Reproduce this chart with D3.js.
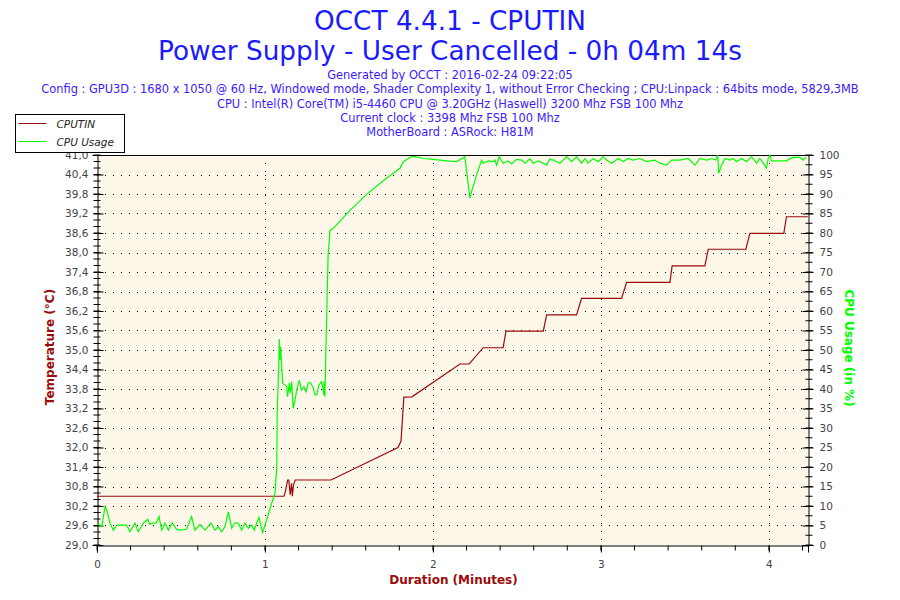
<!DOCTYPE html>
<html>
<head>
<meta charset="utf-8">
<script src="https://cdn.jsdelivr.net/npm/d3@7"></script>
<style>
  body { margin: 0; background: #fff; }
  svg { display: block; font-family: "DejaVu Sans", Verdana, sans-serif; }
</style>
</head>
<body>
<div id="chart"></div>
<script>
// readings, time in minutes
const tempTime = [0, 1.113, 1.122, 1.135, 1.142, 1.150, 1.158, 1.163, 1.170, 1.180, 1.393, 1.792, 1.810, 1.827,
  1.875, 2.161, 2.216, 2.299, 2.418, 2.435, 2.657, 2.677, 2.855, 2.885, 3.123, 3.153, 3.411, 3.424,
  3.619, 3.639, 3.863, 3.887, 4.089, 4.105, 4.232];
const tempValues = [30.5, 30.5, 30.65, 31.0, 31.0, 30.55, 30.9, 30.5, 30.85, 31.0, 31.0, 32.0, 32.2, 33.55,
  33.56, 34.57, 34.57, 35.07, 35.07, 35.58, 35.58, 36.08, 36.08, 36.59, 36.59, 37.08, 37.08, 37.59,
  37.59, 38.1, 38.1, 38.59, 38.59, 39.1, 39.1];

const cpuTime = [0.002, 0.028, 0.048, 0.058, 0.077, 0.097, 0.117, 0.147, 0.177, 0.196, 0.226, 0.246, 0.276,
  0.302, 0.315, 0.335, 0.351, 0.369, 0.385, 0.405, 0.425, 0.448, 0.474, 0.500, 0.534, 0.563, 0.583,
  0.613, 0.643, 0.679, 0.702, 0.722, 0.742, 0.762, 0.782, 0.802, 0.821, 0.841, 0.861, 0.881, 0.901,
  0.921, 0.936, 0.964, 0.986, 1.010, 1.040, 1.060, 1.070, 1.073, 1.083, 1.085, 1.089, 1.093, 1.099,
  1.105, 1.119, 1.129, 1.135, 1.145, 1.151, 1.159, 1.168, 1.179, 1.189, 1.204, 1.218, 1.232, 1.244,
  1.258, 1.272, 1.288, 1.298, 1.308, 1.321, 1.338, 1.347, 1.351, 1.353, 1.357, 1.363, 1.367, 1.376,
  1.387, 1.407, 1.506, 1.605, 1.704, 1.764, 1.804, 1.823, 1.873, 1.893, 1.942, 2.002, 2.082, 2.141,
  2.180, 2.190, 2.201, 2.220, 2.230, 2.260, 2.290, 2.299, 2.329, 2.359, 2.369, 2.379, 2.395, 2.418,
  2.448, 2.468, 2.498, 2.528, 2.548, 2.577, 2.597, 2.627, 2.657, 2.677, 2.696, 2.716, 2.756, 2.796,
  2.826, 2.855, 2.885, 2.905, 2.924, 2.954, 2.984, 3.014, 3.034, 3.064, 3.103, 3.133, 3.163, 3.192,
  3.232, 3.272, 3.321, 3.351, 3.391, 3.421, 3.470, 3.520, 3.560, 3.589, 3.629, 3.659, 3.685, 3.695,
  3.702, 3.718, 3.738, 3.768, 3.788, 3.808, 3.838, 3.867, 3.897, 3.927, 3.946, 3.966, 3.986, 3.996,
  4.006, 4.016, 4.105, 4.125, 4.145, 4.185, 4.204, 4.214, 4.224];
const cpuValues = [5.6, 4.7, 9.8, 9.0, 5.6, 3.8, 5.1, 5.1, 5.1, 3.4, 5.6, 3.4, 5.6, 6.6, 5.3, 5.7, 5.6,
  7.3, 3.8, 5.6, 3.8, 5.7, 4.0, 3.8, 4.1, 7.3, 3.8, 5.3, 3.8, 5.6, 3.8, 4.7, 3.4, 4.7, 8.5, 4.3, 5.7,
  5.6, 3.8, 5.6, 4.3, 5.1, 3.8, 7.1, 3.2, 6.4, 10.7, 13.3, 20.0, 33.8, 47.4, 52.8, 47.4, 50.8, 46.6,
  41.5, 41.0, 40.6, 38.0, 41.5, 38.9, 41.9, 35.0, 37.2, 39.7, 42.3, 39.7, 40.6, 39.3, 41.6, 41.6, 40.2,
  38.5, 38.5, 41.0, 41.9, 39.7, 38.5, 41.9, 38.0, 50.8, 57.7, 74.4, 80.6, 81.2, 85.8, 89.9, 93.4, 95.3,
  96.6, 98.3, 99.6, 99.6, 99.1, 98.9, 98.5, 98.3, 99.3, 99.6, 95.7, 88.9, 90.6, 94.9, 98.7, 97.9, 98.5,
  98.3, 98.7, 97.4, 99.6, 97.9, 98.5, 97.7, 98.9, 98.7, 97.9, 99.0, 97.9, 98.5, 97.9, 97.4, 99.0, 98.7,
  97.9, 99.6, 98.3, 99.6, 97.9, 99.1, 97.9, 99.1, 98.3, 99.6, 98.7, 97.9, 99.1, 98.3, 99.1, 98.7, 99.1,
  98.3, 98.7, 97.9, 97.4, 98.7, 98.7, 99.1, 97.4, 99.1, 98.7, 99.1, 98.7, 100, 95.3, 97.4, 99.1, 98.7,
  99.1, 98.3, 99.1, 98.3, 99.6, 97.9, 99.1, 97.9, 96.6, 99.1, 99.9, 98.5, 98.5, 99.0, 99.4, 99.4, 98.7,
  99.3, 99.1];

const titleLines = ["OCCT 4.4.1 - CPUTIN", "Power Supply - User Cancelled - 0h 04m 14s"];
const infoLines = [
  "Generated by OCCT : 2016-02-24 09:22:05",
  "Config : GPU3D : 1680 x 1050 @ 60 Hz, Windowed mode, Shader Complexity 1, without Error Checking ; CPU:Linpack : 64bits mode, 5829,3MB",
  "CPU : Intel(R) Core(TM) i5-4460 CPU @ 3.20GHz (Haswell) 3200 Mhz FSB 100 Mhz",
  "Current clock : 3398 Mhz FSB 100 Mhz",
  "MotherBoard : ASRock: H81M"
];
const seriesNames = ["CPUTIN", "CPU Usage"];
const tempTicks = d3.range(0, 21).map(i => 29 + i * 0.6);
const cpuTicks = d3.range(0, 21).map(i => i * 5);
const xTicks = [0, 1, 2, 3, 4];

const width = 900, height = 600;
const pLeft = 97, pRight = 808, pTop = 155, pBottom = 545;
const red = "#9b0a0a", green = "#00ff00", blue = "#1a1aff";

const svg = d3.select("#chart").append("svg")
  .attr("width", width)
  .attr("height", height);

const x = d3.scaleLinear().domain([0, 4.233]).range([pLeft, pRight]);
const yT = d3.scaleLinear().domain([29, 41]).range([pBottom, pTop]);
const yC = d3.scaleLinear().domain([0, 100]).range([pBottom, pTop]);

// titles
svg.selectAll("text.title")
  .data(titleLines)
  .enter().append("text")
  .attr("class", "title")
  .attr("x", 450)
  .attr("y", (d, i) => 30 + i * 30)
  .attr("text-anchor", "middle")
  .attr("font-size", 26.3)
  .attr("fill", blue)
  .text(d => d);

svg.selectAll("text.info")
  .data(infoLines)
  .enter().append("text")
  .attr("class", "info")
  .attr("x", 450)
  .attr("y", (d, i) => 79 + i * 14.3)
  .attr("text-anchor", "middle")
  .attr("font-size", 11.4)
  .attr("fill", "#3a1aff")
  .text(d => d);

// plot background
svg.append("rect")
  .attr("x", pLeft).attr("y", pTop)
  .attr("width", pRight - pLeft).attr("height", pBottom - pTop)
  .attr("fill", "#fdf7ea");

// grid
svg.append("g")
  .selectAll("line")
  .data(tempTicks.slice(1, -1))
  .enter().append("line")
  .attr("x1", pLeft).attr("x2", pRight)
  .attr("y1", d => Math.round(yT(d)) + 0.5).attr("y2", d => Math.round(yT(d)) + 0.5)
  .attr("stroke", "#000").attr("stroke-dasharray", "1,7");

svg.append("g")
  .selectAll("line")
  .data(xTicks.slice(1))
  .enter().append("line")
  .attr("x1", d => Math.round(x(d)) + 0.5).attr("x2", d => Math.round(x(d)) + 0.5)
  .attr("y1", pTop).attr("y2", pBottom)
  .attr("stroke", "#000").attr("stroke-dasharray", "1,7");

// top border
svg.append("line")
  .attr("x1", pLeft).attr("x2", pRight)
  .attr("y1", pTop + 0.5).attr("y2", pTop + 0.5)
  .attr("stroke", "#000");

// left axis
const leftAxis = svg.append("g")
  .attr("transform", `translate(${pLeft + 0.5},0)`)
  .call(d3.axisLeft(yT).tickValues(tempTicks).tickFormat(d => d3.format(".1f")(d).replace(".", ",")).tickSize(5));
leftAxis.selectAll(".tick line").attr("x2", -4).attr("x1", 6);
leftAxis.selectAll("g.minor")
  .data(d3.range(0, 61).map(i => 29 + i * 0.2))
  .enter().append("line")
  .attr("x1", -4).attr("x2", 3)
  .attr("y1", d => yT(d)).attr("y2", d => yT(d))
  .attr("stroke", "#000");

// right axis
const rightAxis = svg.append("g")
  .attr("transform", `translate(${pRight + 0.5},0)`)
  .call(d3.axisRight(yC).tickValues(cpuTicks).tickSize(5));
rightAxis.selectAll(".tick line").attr("x1", -6).attr("x2", 5);
rightAxis.selectAll("g.minor")
  .data(d3.range(0, 41).map(i => i * 2.5))
  .enter().append("line")
  .attr("x1", -3).attr("x2", 4)
  .attr("y1", d => yC(d)).attr("y2", d => yC(d))
  .attr("stroke", "#000");

// bottom axis
const bottomAxis = svg.append("g")
  .attr("transform", `translate(0,${pBottom + 0.5})`)
  .call(d3.axisBottom(x).tickValues(xTicks).tickFormat(d3.format("d")).tickSize(7).tickPadding(8));
bottomAxis.selectAll("g.minor")
  .data(d3.range(0, 22).map(i => i * 0.2))
  .enter().append("line")
  .attr("x1", d => x(d)).attr("x2", d => x(d))
  .attr("y1", 0).attr("y2", 5)
  .attr("stroke", "#000");

[leftAxis, rightAxis, bottomAxis].forEach(a => {
  a.select(".domain").attr("stroke", "#000");
  a.selectAll(".tick line").attr("stroke", "#000");
  a.selectAll("text").attr("fill", "#444").attr("font-size", 10.5)
    .attr("font-family", "DejaVu Sans, sans-serif");
});
leftAxis.selectAll(".tick text").attr("x", -9);
rightAxis.selectAll(".tick text").attr("x", 11);

// series
const tempLine = d3.line()
  .x((d, i) => x(tempTime[i]))
  .y(d => yT(d));
const cpuLine = d3.line()
  .x((d, i) => x(cpuTime[i]))
  .y(d => yC(d));

svg.append("path")
  .datum(tempValues)
  .attr("d", tempLine)
  .attr("fill", "none")
  .attr("stroke", red)
  .attr("stroke-width", 1.2);

svg.append("path")
  .datum(cpuValues)
  .attr("d", cpuLine)
  .attr("fill", "none")
  .attr("stroke", green)
  .attr("stroke-width", 1.2);

// axis titles
svg.append("text")
  .attr("transform", `translate(54,${(pTop + pBottom) / 2 - 3}) rotate(-90)`)
  .attr("text-anchor", "middle")
  .attr("font-size", 12)
  .attr("font-weight", "bold")
  .attr("fill", red)
  .text("Temperature (°C)");

svg.append("text")
  .attr("transform", `translate(845,${(pTop + pBottom) / 2 - 2}) rotate(90)`)
  .attr("text-anchor", "middle")
  .attr("font-size", 12)
  .attr("font-weight", "bold")
  .attr("fill", green)
  .text("CPU Usage (in %)");

svg.append("text")
  .attr("x", (pLeft + pRight) / 2 + 1)
  .attr("y", 584)
  .attr("text-anchor", "middle")
  .attr("font-size", 12)
  .attr("font-weight", "bold")
  .attr("fill", red)
  .text("Duration (Minutes)");

// legend, drawn over the top axis label like the original
const legend = svg.append("g").attr("transform", "translate(15.5,114.5)");
legend.append("rect")
  .attr("width", 109).attr("height", 38)
  .attr("fill", "#fff").attr("stroke", "#000");
const item = legend.selectAll("g.item")
  .data(seriesNames)
  .enter().append("g")
  .attr("class", "item")
  .attr("transform", (d, i) => `translate(0,${9 + i * 18})`);
item.append("line")
  .attr("x1", 3).attr("x2", 31)
  .attr("stroke", (d, i) => i === 0 ? red : green);
item.append("text")
  .attr("x", 41).attr("y", 4)
  .attr("font-size", 10.5)
  .attr("font-style", "italic")
  .attr("fill", "#222")
  .text(d => d);
</script>
</body>
</html>
